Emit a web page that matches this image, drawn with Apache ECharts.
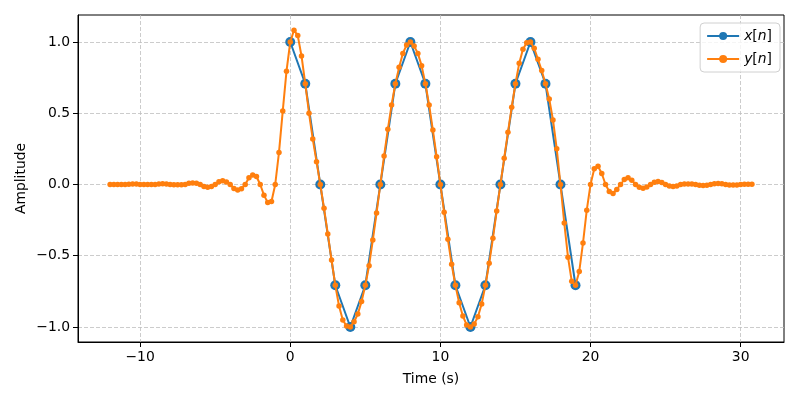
<!DOCTYPE html>
<html><head><meta charset="utf-8">
<script src="https://cdn.jsdelivr.net/npm/echarts@6/dist/echarts.min.js"></script>
<style>html,body{margin:0;padding:0;background:#fff}#c{width:800px;height:400px}</style>
</head><body><div id="c"></div>
<script>
// samples x[n]
const sampleN = [0,1,2,3,4,5,6,7,8,9,10,11,12,13,14,15,16,17,18,19];
const sampleX = [1,0.7071,0,-0.7071,-1,-0.7071,0,0.7071,1,0.7071,0,-0.7071,-1,-0.7071,0,0.7071,1,0.7071,0,-0.7071];
// reconstructed y[n] on a time grid starting at -12 with step 0.25
const interpStart = -12;
const interpStep = 0.25;
const interpY = [
  0,0,0,0,
  0,0.002,0.004,0.003,
  0,0,0,0,
  0,0.004,0.006,0.004,
  0,-0.001,-0.002,-0.001,
  0,0.008,0.011,0.008,
  0,-0.014,-0.02,-0.014,
  0,0.02,0.027,0.017,
  0,-0.028,-0.038,-0.03,
  0,0.048,0.066,0.056,
  0,-0.075,-0.127,-0.12,
  0,0.225,0.515,0.795,
  1.0,1.083,1.045,0.902,
  0.707,0.50,0.319,0.16,
  0,-0.167,-0.347,-0.53,
  -0.707,-0.853,-0.951,-0.993,
  -1.0,-0.963,-0.909,-0.822,
  -0.707,-0.57,-0.39,-0.2,
  0,0.2,0.387,0.558,
  0.707,0.822,0.92,0.979,
  1.0,0.972,0.92,0.834,
  0.707,0.558,0.382,0.195,
  0,-0.195,-0.385,-0.56,
  -0.707,-0.83,-0.923,-0.986,
  -1.0,-0.98,-0.928,-0.839,
  -0.707,-0.553,-0.378,-0.186,
  0,0.184,0.366,0.542,
  0.707,0.85,0.949,0.995,
  1.0,0.956,0.879,0.80,
  0.707,0.60,0.453,0.25,
  0,-0.27,-0.51,-0.68,
  -0.707,-0.61,-0.41,-0.18,
  0,0.11,0.128,0.077,
  0,-0.049,-0.063,-0.035,
  0,0.035,0.047,0.03,
  0,-0.02,-0.027,-0.018,
  0,0.015,0.021,0.014,
  0,-0.011,-0.015,-0.01,
  0,0.003,0.004,0.003,
  0,-0.005,-0.007,-0.005,
  0,0.005,0.007,0.005,
  0,-0.003,-0.004,-0.003,
  0,0.002,0.002,0.001
];
const xTicks = [-10,0,10,20,30];
const yTicks = [-1,-0.5,0,0.5,1];
const xRange = [-14.1375, 32.8875];
const yRange = [-1.1055, 1.1895];

const FONT = 'DejaVu Sans';
const minus = s => String(s).replace('-', '\u2212');

const xData = sampleN.map((n,i)=>[n, sampleX[i]]);
const yData = interpY.map((v,i)=>[interpStart + i*interpStep, v]);

const chart = echarts.init(document.getElementById('c'), null, {renderer:'canvas'});
chart.setOption({
  animation:false,
  backgroundColor:'#fff',
  grid:{left:78, right:16, top:15, bottom:58, show:true, borderColor:'#000', borderWidth:1, backgroundColor:'transparent'},
  xAxis:{
    type:'value', min:xRange[0], max:xRange[1],
    name:'Time (s)', nameLocation:'middle', nameGap:30,
    nameTextStyle:{fontFamily:FONT, fontSize:13.9, color:'#000'},
    axisLine:{show:true, onZero:false, lineStyle:{color:'#000', width:1}},
    axisTick:{show:true, inside:false, length:5, customValues:xTicks, lineStyle:{color:'#000', width:1}},
    axisLabel:{show:true, margin:8, customValues:xTicks, fontFamily:FONT, fontSize:13.9, color:'#000', formatter:v=>minus(v)},
    splitLine:{show:true, lineStyle:{color:'#bfbfbf', width:0.8, type:[4,2]}}
  },
  yAxis:{
    type:'value', min:yRange[0], max:yRange[1],
    name:'Amplitude', nameLocation:'middle', nameGap:57, nameRotate:90, nameMoveOverlap:false,
    nameTextStyle:{fontFamily:FONT, fontSize:13.9, color:'#000', verticalAlign:'middle'},
    axisLine:{show:true, onZero:false, lineStyle:{color:'#000', width:1}},
    axisTick:{show:true, inside:false, length:5, customValues:yTicks, lineStyle:{color:'#000', width:1}},
    axisLabel:{show:true, margin:8, customValues:yTicks, fontFamily:FONT, fontSize:13.9, color:'#000', formatter:v=>minus(Number(v).toFixed(1))},
    splitLine:{show:true, lineStyle:{color:'#bfbfbf', width:0.8, type:[4,2]}}
  },
  legend:{
    orient:'vertical', right:20, top:23,
    backgroundColor:'rgba(255,255,255,0.8)', borderColor:'#d0d0d0', borderWidth:1, borderRadius:4,
    padding:[6,8,6,6], itemGap:9, itemWidth:32, itemHeight:10,
    textStyle:{fontFamily:FONT, fontSize:13.9, color:'#000',
      rich:{i:{fontFamily:FONT, fontSize:13.9, fontStyle:'italic', color:'#000'}, r:{fontFamily:FONT, fontSize:13.9, color:'#000'}}},
    formatter: name => name === 'x[n]' ? '{i|x}{r|[}{i|n}{r|]}' : '{i|y}{r|[}{i|n}{r|]}',
    data:['x[n]','y[n]']
  },
  series:[
    {name:'x[n]', type:'line', data:xData, color:'#1f77b4', symbol:'circle', symbolSize:10, showSymbol:true,
     lineStyle:{width:2, color:'#1f77b4'}, itemStyle:{color:'#1f77b4'}, z:2},
    {name:'y[n]', type:'line', data:yData, color:'#ff7f0e', symbol:'circle', symbolSize:5.5, showSymbol:true,
     lineStyle:{width:2, color:'#ff7f0e'}, itemStyle:{color:'#ff7f0e'}, z:3}
  ]
});
</script></body></html>
